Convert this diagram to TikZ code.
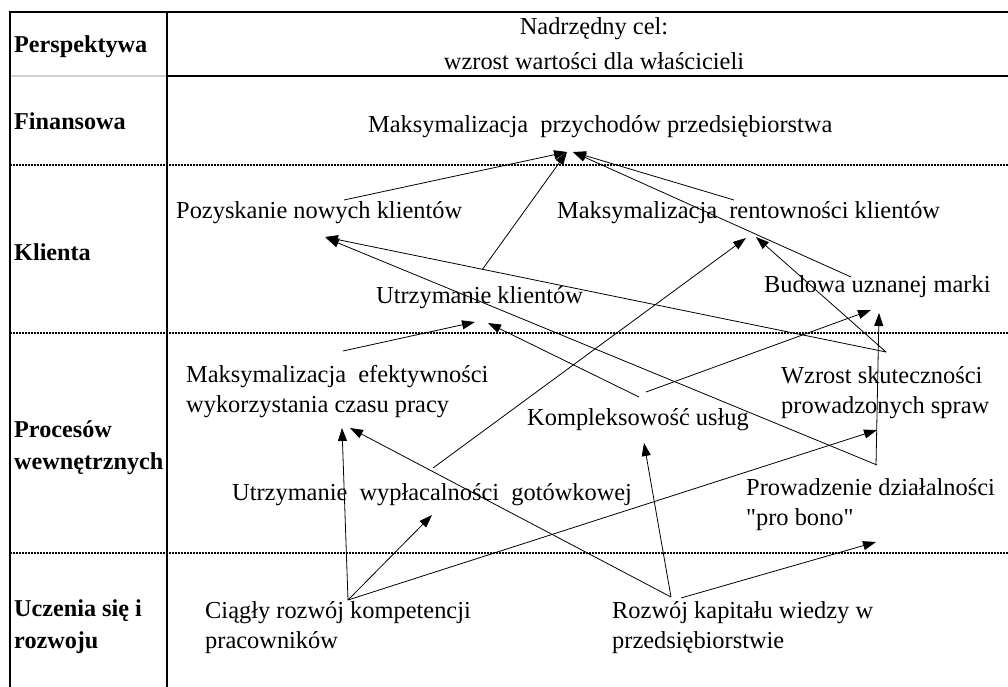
\documentclass[tikz,border=0pt]{standalone}
\usepackage{fontspec}
\setmainfont{Liberation Serif}
\usepackage{tikz}
\usetikzlibrary{arrows.meta}

\begin{document}
\begin{tikzpicture}[x=1pt,y=-1pt,
    cel/.style={font=\fontsize{24.4}{30}\selectfont,inner sep=0pt,anchor=base west,align=left},
    pers/.style={cel,font=\fontsize{24.2}{31.5}\selectfont\bfseries},
    strz/.style={-{Triangle[length=13pt,width=9pt]},line width=0.8pt},
    kres/.style={dash pattern=on 2pt off 1pt,line width=1.3pt}]
    \useasboundingbox (0,0) rectangle (1008,687);
    % tabela
    \draw[line width=1.6pt] (10,12) -- (1008,12);
    \draw[line width=1.6pt] (167,76) -- (1008,76);
    \draw[line width=1.6pt,black!18] (10,76) -- (167,76);
    \foreach \y in {165,333,553} {
       \draw[kres] (10,\y) -- (1008,\y);
    }
    \draw[line width=1.6pt] (10,11.2) -- (10,687);
    \draw[line width=1.6pt] (167,11.2) -- (167,687);
    % perspektywy (base = ostatnia linia)
    \node[pers] (p0) at (14,53) {Perspektywa};
    \node[pers] (p1) at (14,130) {Finansowa};
    \node[pers] (p2) at (14,260) {Klienta};
    \node[pers] (p3) at (14,469) {Procesów\\wewnętrznych};
    \node[pers] (p4) at (14,648) {Uczenia się i\\rozwoju};
    % cele
    \node[cel,anchor=base,align=center] (nadrz) at (594,70) {Nadrzędny cel:\\[5pt]wzrost wartości dla właścicieli};
    \node[cel] (przych) at (368,133) {Maksymalizacja\ \ przychodów przedsiębiorstwa};
    \node[cel] (pozysk) at (176,218) {Pozyskanie nowych klientów};
    \node[cel] (rentow) at (557,218) {Maksymalizacja\ \ rentowności klientów};
    \node[cel] (utrzkl) at (376,303) {Utrzymanie klientów};
    \node[cel] (marka) at (764,292) {Budowa uznanej marki};
    \node[cel] (efekt) at (186,412) {Maksymalizacja\ \ efektywności\\wykorzystania czasu pracy};
    \node[cel] (wzrost) at (781,413) {Wzrost skuteczności\\prowadzonych spraw};
    \node[cel] (kompl) at (527,425) {Kompleksowość usług};
    \node[cel] (wyplac) at (232,500) {Utrzymanie\ \ wypłacalności\ \ gotówkowej};
    \node[cel] (probono) at (746,525) {Prowadzenie działalności\\\textquotedbl pro bono\textquotedbl};
    \node[cel] (ciagly) at (205,648) {Ciągły rozwój kompetencji\\pracowników};
    \node[cel] (kapital) at (612,648) {Rozwój kapitału wiedzy w\\przedsiębiorstwie};
    % powiazania
    \foreach \a/\ax/\ay/\b/\bx/\by in {%
       pozysk/168/-18/przych/199/19, utrzkl/106/-33/przych/199/19,
       rentow/177/-18/przych/205/19, marka/87/-15/przych/205/19,
       efekt/157/-61/utrzkl/99/19, kompl/112/-28/utrzkl/112/20,
       wyplac/201/-32/rentow/189/20, wzrost/105/-61/rentow/199/19,
       wzrost/105/-61/pozysk/149/19, probono/131/-60/pozysk/150/20,
       kompl/119/-33/marka/107/18, probono/130/-60/marka/115/21,
       ciagly/143/-48/efekt/156/16, ciagly/143/-48/wyplac/200/15,
       ciagly/143/-48/wzrost/96/17, kapital/59/-51/efekt/164/16,
       kapital/59/-51/kompl/117/18, kapital/69/-50/probono/130/17} {
       \draw[strz] ([shift={(\ax,\ay)}]\a.base west) -- ([shift={(\bx,\by)}]\b.base west);
    }
\end{tikzpicture}
\end{document}
